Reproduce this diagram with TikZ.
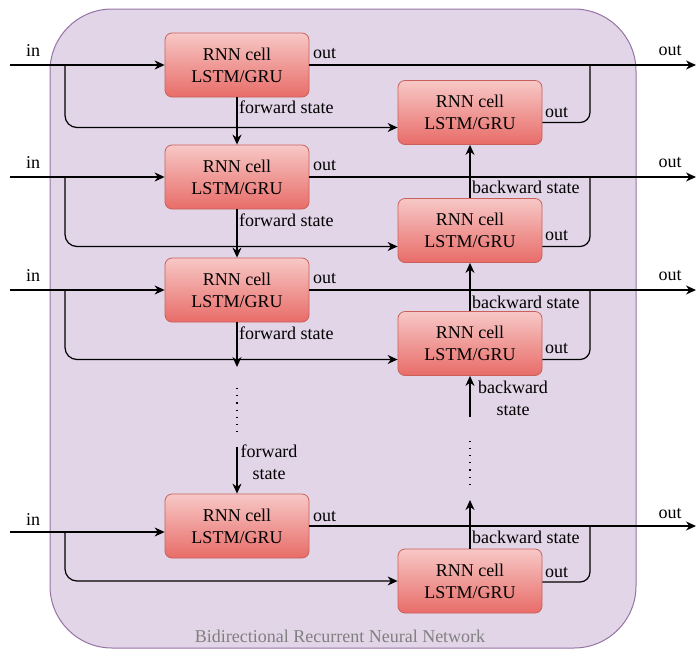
\documentclass[tikz,border=0pt]{standalone}
\usepackage{fontspec}
\setmainfont{Liberation Serif}
\usetikzlibrary{arrows.meta}
\definecolor{bgfill}{HTML}{E1D5E7}
\definecolor{bgdraw}{HTML}{9673A6}
\definecolor{celltop}{HTML}{F7C8C6}
\definecolor{cellbot}{HTML}{E86C68}
\definecolor{cellborder}{HTML}{C9605C}
\definecolor{captiongray}{HTML}{808080}
\newcommand{\diafont}{\fontsize{18}{21.7}\selectfont}
\tikzset{
  cell/.style={draw=cellborder, line width=0.8pt, rounded corners=7pt,
    top color=celltop, bottom color=cellbot, minimum width=144pt,
    minimum height=64pt, align=center, inner sep=0pt, font=\diafont},
  wire/.style={line width=1.2pt, draw=black},
  arr/.style={wire, -{Stealth[length=10pt,width=9pt]}},
  dots/.style={wire, dash pattern=on 1.2pt off 6pt},
  lbl/.style={inner sep=0pt, font=\diafont},
}
\begin{document}
\begin{tikzpicture}[x=1pt, y=-1pt]
\useasboundingbox (0,0) rectangle (696,651);

% container
\draw[fill=bgfill, draw=bgdraw, line width=1pt, rounded corners=62pt]
  (50,9) rectangle (636,648);
\node[lbl, text=captiongray, anchor=base] (caption) at (340,642)
  {Bidirectional Recurrent Neural Network};

% forward cells
\node[cell] (F1) at (237,65)  {RNN cell\\LSTM/GRU};
\node[cell] (F2) at (237,177) {RNN cell\\LSTM/GRU};
\node[cell] (F3) at (237,290) {RNN cell\\LSTM/GRU};
\node[cell] (F4) at (237,526) {RNN cell\\LSTM/GRU};
% backward cells
\node[cell] (B1) at (470,112.5) {RNN cell\\LSTM/GRU};
\node[cell] (B2) at (470,230.5) {RNN cell\\LSTM/GRU};
\node[cell] (B3) at (470,343.5) {RNN cell\\LSTM/GRU};
\node[cell] (B4) at (470,581)   {RNN cell\\LSTM/GRU};

% input and output ends
\foreach \r/\y/\yi in {1/65/65, 2/177/177, 3/290/290, 4/526/532} {
  \coordinate (in\r) at (10,\yi);
  \coordinate (br\r) at (65,\yi);
  \coordinate (out\r) at (696,\y);
  \coordinate (jn\r) at (590,\y);
}

% inputs: to the forward cell, and branched to the backward cell
\foreach \r/\off in {1/-15, 2/-16, 3/-16, 4/0} {
  \draw[arr] (in\r) -- (F\r.west |- in\r);
  \draw[arr, rounded corners=12pt] (br\r) |- ([yshift=\off pt]B\r.west);
}

% outputs: forward cell straight out, backward cell joins the same line
\foreach \r/\off in {1/-10, 2/-16, 3/-16, 4/-1} {
  \draw[arr] (F\r) -- (out\r);
  \draw[wire, rounded corners=10pt] ([yshift=\off pt]B\r.east) -| (jn\r);
}

% labels on inputs and outputs
\foreach \y/\yo/\yf in {56/55/58, 168/167/170, 281/280/283, 525/518/521} {
  \node[lbl, anchor=base] at (33,\y) {in};
  \node[lbl, anchor=base] at (670,\yo) {out};
  \node[lbl, anchor=base west] at (313,\yf) {out};
}
\node[lbl, anchor=base west] at (545,117) {out};
\node[lbl, anchor=base west] at (545,240) {out};
\node[lbl, anchor=base west] at (545,353) {out};
\node[lbl, anchor=base west] at (545,577) {out};

% forward state chain
\draw[arr] (F1) -- (F2);
\draw[arr] (F2) -- (F3);
\coordinate (fa) at (237,367);
\coordinate (fd1) at (237,388);
\coordinate (fd2) at (237,437);
\coordinate (fb) at (237,447);
\draw[arr] (F3) -- (fa);
\draw[dots] (fd1) -- (fd2);
\draw[arr] (fb) -- (F4);
\node[lbl, anchor=base west] at (239,113) {forward state};
\node[lbl, anchor=base west] at (239,226) {forward state};
\node[lbl, anchor=base west] at (239,339) {forward state};
\node[lbl, align=center] at (269,462) {forward\\state};

% backward state chain
\draw[arr] (B2) -- (B1);
\draw[arr] (B3) -- (B2);
\coordinate (ba) at (470,500);
\coordinate (bd1) at (470,485);
\coordinate (bd2) at (470,436);
\coordinate (bb) at (470,417);
\draw[arr] (B4) -- (ba);
\draw[dots] (bd1) -- (bd2);
\draw[arr] (bb) -- (B3);
\node[lbl, anchor=base west] at (472,193) {backward state};
\node[lbl, anchor=base west] at (472,308) {backward state};
\node[lbl, anchor=base west] at (472,543) {backward state};
\node[lbl, align=center] at (513,398) {backward\\state};
\end{tikzpicture}
\end{document}
